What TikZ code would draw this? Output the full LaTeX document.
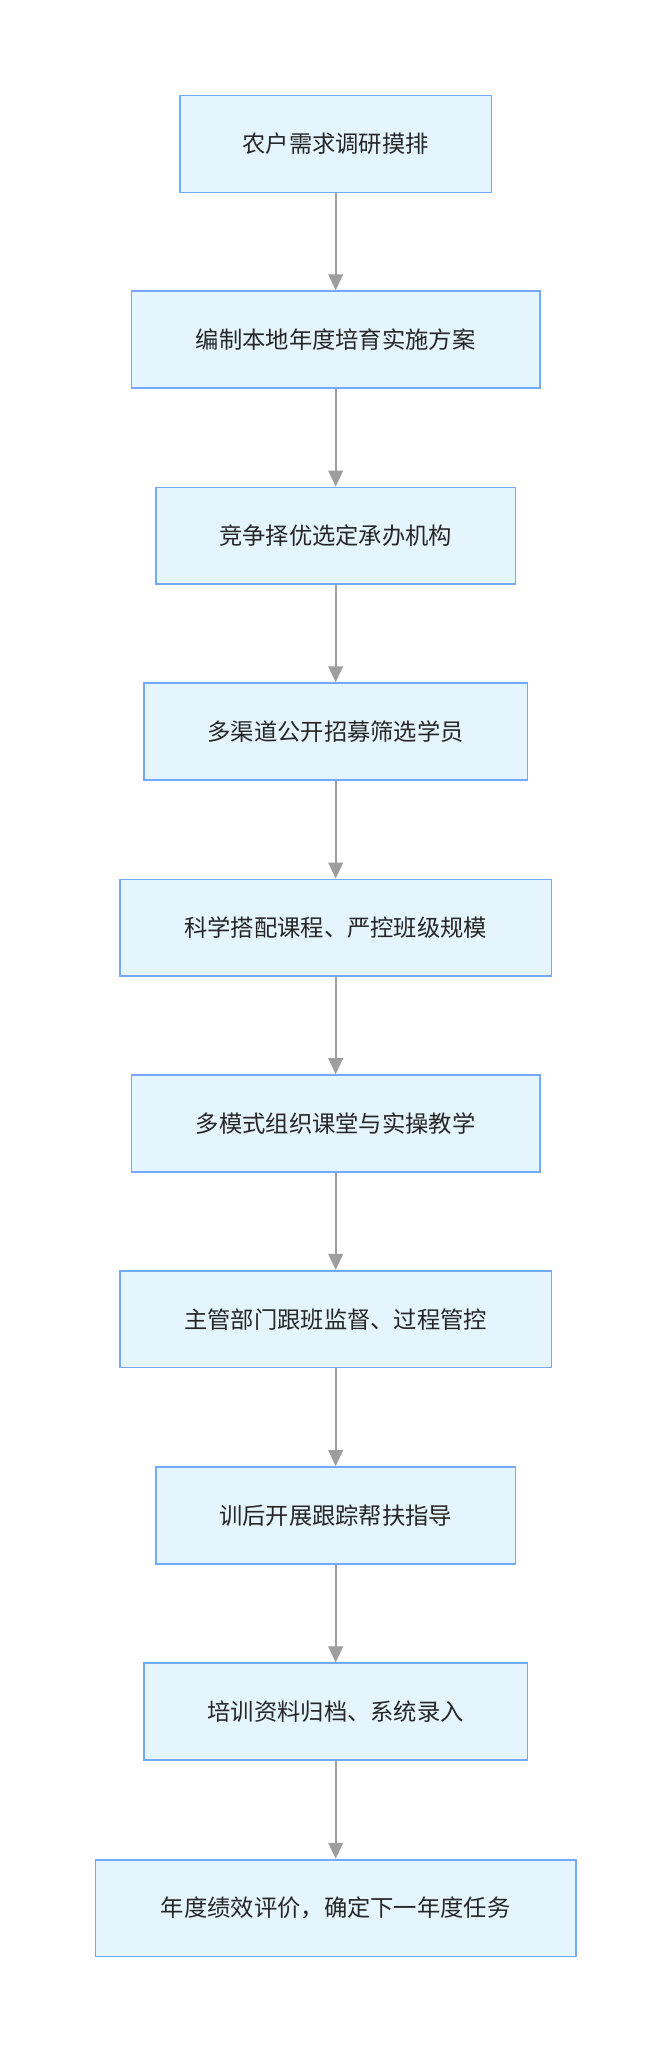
\documentclass[tikz,border=0pt]{standalone}
\usepackage{fontspec}
\setmainfont{Noto Sans CJK SC}
\usetikzlibrary{arrows.meta}
\definecolor{boxfill}{HTML}{E5F5FE}
\definecolor{boxline}{HTML}{74A9F7}
\definecolor{arr}{HTML}{9E9E9E}
\begin{document}
\begin{tikzpicture}[x=0.9825pt,y=-0.9825pt,
  box/.style={draw=boxline,line width=1.3pt,fill=boxfill,minimum height=72.7pt,inner sep=0pt,font=\fontsize{17.5pt}{21pt}\selectfont,text=black!85},
  link/.style={color=arr,line width=1.3pt,-{Triangle[length=12pt,width=11pt]}}]
\useasboundingbox (0,0) rectangle (513,1568);
\fill[white] (0,0) rectangle (513,1568);
\node[box,minimum width=233.8pt] (n1) at (256.5,110) {农户需求调研摸排};
\node[box,minimum width=306.5pt] (n2) at (256.5,259.5) {编制本地年度培育实施方案};
\node[box,minimum width=270.2pt] (n3) at (256.5,409.5) {竞争择优选定承办机构};
\node[box,minimum width=287.9pt] (n4) at (256.5,559) {多渠道公开招募筛选学员};
\node[box,minimum width=324.2pt] (n5) at (256.5,709) {科学搭配课程、严控班级规模};
\node[box,minimum width=306.5pt] (n6) at (256.5,858.5) {多模式组织课堂与实操教学};
\node[box,minimum width=324.2pt] (n7) at (256.5,1008) {主管部门跟班监督、过程管控};
\node[box,minimum width=270.2pt] (n8) at (256.5,1158) {训后开展跟踪帮扶指导};
\node[box,minimum width=287.9pt] (n9) at (256.5,1308) {培训资料归档、系统录入};
\node[box,minimum width=360.6pt] (n10) at (256.5,1458) {年度绩效评价，确定下一年度任务};
\foreach \a/\b in {n1/n2,n2/n3,n3/n4,n4/n5,n5/n6,n6/n7,n7/n8,n8/n9,n9/n10}
  \draw[link] (\a) -- (\b);
\end{tikzpicture}
\end{document}
